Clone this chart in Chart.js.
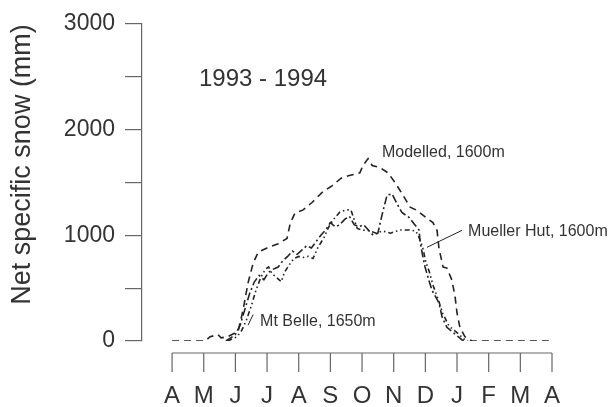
<!DOCTYPE html>
<html>
<head>
<meta charset="utf-8">
<script src="https://cdn.jsdelivr.net/npm/chart.js@4/dist/chart.umd.min.js"></script>
<style>
  html, body { margin: 0; padding: 0; background: #fff; }
  #wrap { width: 612px; height: 407px; }
</style>
</head>
<body>
<div id="wrap"><canvas id="chart" width="612" height="407"></canvas></div>
<script>
// meses de abril 1993 a abril 1994 (0 = A, 12 = A)
const monthLabels = ['A', 'M', 'J', 'J', 'A', 'S', 'O', 'N', 'D', 'J', 'F', 'M', 'A'];
const yTicks = [0, 500, 1000, 1500, 2000, 2500, 3000];

// Modelled, 1600m
const modelledMonths = [0, 1.05, 1.2, 1.45, 1.55, 1.75, 1.95, 2.08, 2.24, 2.4, 2.56, 2.72, 3.0, 3.35, 3.63, 3.73, 3.88, 4.14, 4.42, 4.74, 5.06, 5.34, 5.6, 5.93, 6.03, 6.19, 6.32, 6.57, 6.82, 7.04, 7.26, 7.52, 7.74, 8.05, 8.24, 8.37, 8.43, 8.56, 8.68, 8.84, 8.94, 9.0, 9.09, 9.25, 9.47, 12];
const modelledMm = [0, 0, 40, 60, 30, 40, 70, 85, 290, 550, 735, 840, 880, 920, 970, 1110, 1210, 1240, 1310, 1405, 1470, 1540, 1565, 1590, 1660, 1725, 1660, 1640, 1590, 1500, 1395, 1265, 1235, 1160, 1120, 1045, 875, 700, 690, 575, 415, 265, 130, 40, 0, 0];

// Mueller Hut, 1600m
const muellerMonths = [1.7, 1.85, 2.0, 2.15, 2.3, 2.45, 2.6, 2.75, 2.9, 3.05, 3.2, 3.35, 3.5, 3.65, 3.8, 3.95, 4.1, 4.25, 4.4, 4.55, 4.7, 4.85, 5.0, 5.15, 5.3, 5.45, 5.6, 5.75, 5.9, 6.05, 6.2, 6.35, 6.5, 6.63, 6.79, 6.95, 7.1, 7.26, 7.48, 7.64, 7.8, 7.83, 7.9, 7.99, 8.11, 8.21, 8.43, 8.53, 8.68, 8.9, 9.16, 9.3];
const muellerMm = [0, 30, 60, 150, 300, 450, 560, 620, 580, 650, 680, 700, 760, 800, 850, 820, 860, 900, 880, 940, 1000, 1050, 1120, 1080, 1100, 1150, 1180, 1100, 1080, 1100, 1050, 1000, 1020, 1190, 1380, 1390, 1300, 1215, 1170, 1110, 1050, 950, 830, 700, 575, 480, 360, 225, 130, 75, 10, 0];

// Mt Belle, 1650m
const belleMonths = [1.75, 1.9, 2.05, 2.2, 2.35, 2.5, 2.65, 2.8, 2.95, 3.05, 3.15, 3.3, 3.45, 3.55, 3.7, 3.85, 4.0, 4.15, 4.3, 4.45, 4.6, 4.8, 4.95, 5.1, 5.3, 5.5, 5.65, 5.75, 5.85, 6.0, 6.2, 6.45, 6.65, 6.9, 7.2, 7.5, 7.7, 7.8, 7.92, 8.02, 8.12, 8.25, 8.4, 8.55, 8.75, 9.0, 9.25, 9.35];
const belleMm = [0, 20, 40, 100, 200, 330, 480, 600, 680, 700, 640, 600, 560, 650, 720, 780, 800, 790, 800, 780, 880, 980, 1080, 1150, 1220, 1240, 1240, 1150, 1065, 1050, 1045, 1020, 1040, 1020, 1050, 1050, 1040, 980, 880, 740, 660, 520, 400, 260, 140, 80, 10, 0];

const ink = '#222';
const axisInk = '#666';
const font = "'Liberation Sans', Arial, sans-serif";

function pts(xs, ys) {
  return xs.map((m, i) => ({ x: m, y: ys[i] }));
}

function serie(label, xs, ys, dash) {
  return {
    label,
    data: pts(xs, ys),
    borderColor: ink,
    borderWidth: 1.6,
    borderDash: dash,
    pointRadius: 0,
    tension: 0,
    fill: false
  };
}

// textos y flechitas, ancladas en valores de los ejes
const notes = [
  { text: '1993 - 1994', x: 0.85, y: 2470, size: 24 },
  { text: 'Modelled, 1600m', x: 6.63, y: 1780, size: 16 },
  { text: 'Mueller Hut, 1600m', x: 9.35, y: 1037, size: 16 },
  { text: 'Mt Belle, 1650m', x: 2.78, y: 185, size: 16 }
];
const pointers = [
  [9.16, 1047, 8.05, 886],
  [2.40, 150, 2.56, 250]
];

const overlay = {
  id: 'overlay',
  afterDraw(chart) {
    const { ctx, chartArea, scales: { x, y } } = chart;
    ctx.save();

    // eje x separado un poco por debajo del cero
    const ay = chartArea.bottom + 12;
    ctx.strokeStyle = axisInk;
    ctx.lineWidth = 1.2;
    ctx.beginPath();
    ctx.moveTo(x.getPixelForValue(0), ay);
    ctx.lineTo(x.getPixelForValue(monthLabels.length - 1), ay);
    monthLabels.forEach((_, i) => {
      const px = x.getPixelForValue(i);
      ctx.moveTo(px, ay);
      ctx.lineTo(px, ay + 19);
    });
    ctx.stroke();

    // título del eje y
    ctx.fillStyle = '#333';
    ctx.font = '27px ' + font;
    ctx.textAlign = 'center';
    ctx.textBaseline = 'middle';
    ctx.translate(23, y.getPixelForValue(1670));
    ctx.rotate(-Math.PI / 2);
    ctx.fillText('Net specific snow (mm)', 0, 0);
    ctx.setTransform(1, 0, 0, 1, 0, 0);

    ctx.textAlign = 'left';
    notes.forEach(n => {
      ctx.font = n.size + 'px ' + font;
      ctx.fillText(n.text, x.getPixelForValue(n.x), y.getPixelForValue(n.y));
    });

    ctx.strokeStyle = ink;
    ctx.lineWidth = 1;
    ctx.beginPath();
    pointers.forEach(p => {
      ctx.moveTo(x.getPixelForValue(p[0]), y.getPixelForValue(p[1]));
      ctx.lineTo(x.getPixelForValue(p[2]), y.getPixelForValue(p[3]));
    });
    ctx.stroke();
    ctx.restore();
  }
};

new Chart(document.getElementById('chart'), {
  type: 'line',
  data: {
    datasets: [
      serie('Modelled, 1600m', modelledMonths, modelledMm, [7, 5]),
      serie('Mueller Hut, 1600m', muellerMonths, muellerMm, [8, 3, 2, 3]),
      serie('Mt Belle, 1650m', belleMonths, belleMm, [5, 3, 1.5, 3, 1.5, 3])
    ]
  },
  options: {
    responsive: false,
    animation: false,
    layout: { padding: { left: 0, right: 60, top: 23, bottom: 0 } },
    plugins: { legend: { display: false }, tooltip: { enabled: false } },
    scales: {
      x: {
        type: 'linear',
        min: -0.95,
        max: 12,
        afterBuildTicks: s => { s.ticks = monthLabels.map((_, i) => ({ value: i })); },
        afterFit: s => { s.height = 66; },
        grid: { display: false },
        border: { display: false },
        ticks: {
          autoSkip: false,
          maxRotation: 0,
          padding: 33,
          color: '#333',
          font: { family: font, size: 24 },
          callback: v => monthLabels[v] ?? ''
        }
      },
      y: {
        min: 0,
        max: 3000,
        afterBuildTicks: s => { s.ticks = yTicks.map(v => ({ value: v })); },
        afterFit: s => { s.width = 142; },
        grid: { drawOnChartArea: false, drawTicks: true, tickLength: 17, color: axisInk, lineWidth: 1.2 },
        border: { display: true, color: axisInk, width: 1.2 },
        ticks: {
          padding: 10,
          color: '#333',
          font: { family: font, size: 23 },
          callback: v => (v % 1000 === 0 ? String(v) : '')
        }
      }
    }
  },
  plugins: [overlay]
});
</script>
</body>
</html>
